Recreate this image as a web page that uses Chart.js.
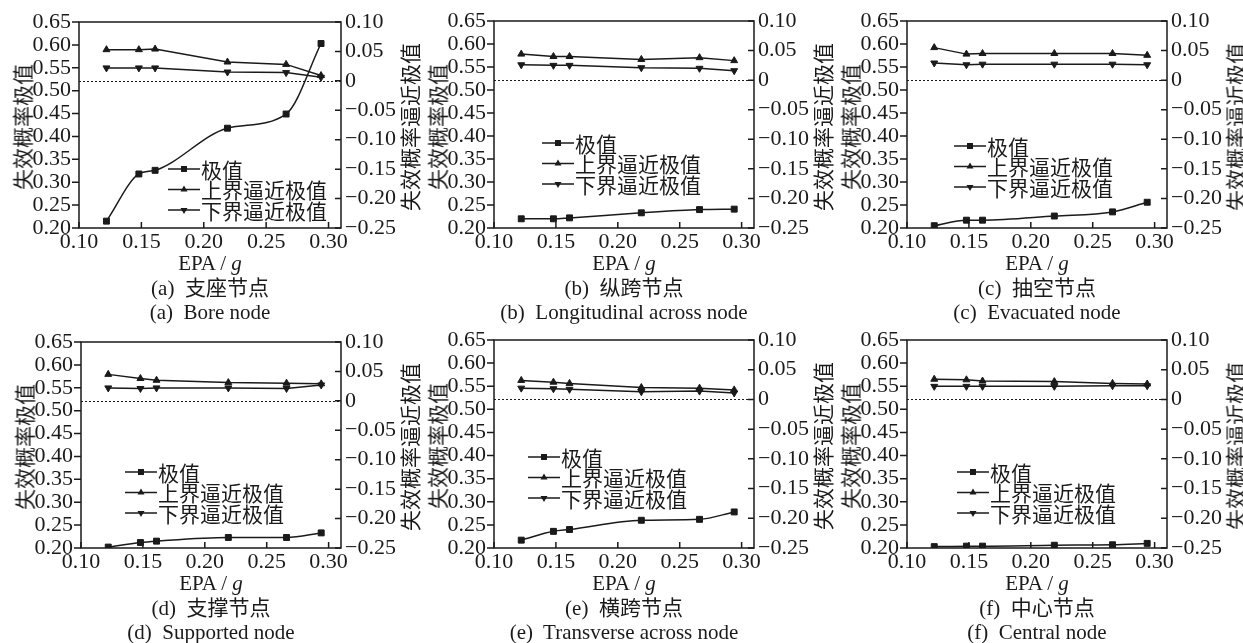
<!DOCTYPE html>
<html><head><meta charset="utf-8">
<script src="https://cdn.jsdelivr.net/npm/chart.js@4.4.0/dist/chart.umd.min.js"></script>
<style>
body{margin:0;background:#fff;width:1243px;height:643px;position:relative;overflow:hidden;font-family:"Liberation Serif","Noto Sans CJK SC",serif;color:#1a1a1a}
canvas{position:absolute}
.t{position:absolute;white-space:pre;transform:translate(-50%,-50%);font-size:21px;line-height:1}
.v{position:absolute;white-space:nowrap;transform:translate(-50%,-50%) rotate(-90deg);font-size:21px;line-height:1;font-family:"Noto Sans CJK SC",sans-serif}
</style></head><body>
<script>
// ---- data ----
const epa = [0.122, 0.148, 0.161, 0.219, 0.266, 0.294];
const xTicks = [0.10, 0.15, 0.20, 0.25, 0.30];
const leftTicks = [0.20, 0.25, 0.30, 0.35, 0.40, 0.45, 0.50, 0.55, 0.60, 0.65];
const rightTicks = [-0.25, -0.20, -0.15, -0.10, -0.05, 0, 0.05, 0.10];
const seriesNames = ['极值', '上界逼近极值', '下界逼近极值'];
const leftTitle = '失效概率极值';
const rightTitle = '失效概率逼近极值';
const xTitle = 'EPA / ';

const extA = [0.215, 0.318, 0.326, 0.418, 0.449, 0.603];
const upA  = [0.053, 0.053, 0.054, 0.032, 0.028, 0.009];
const lowA = [0.022, 0.022, 0.022, 0.015, 0.014, 0.006];

const extB = [0.220, 0.220, 0.222, 0.233, 0.240, 0.241];
const upB  = [0.044, 0.040, 0.040, 0.035, 0.038, 0.033];
const lowB = [0.026, 0.025, 0.025, 0.021, 0.020, 0.016];

const extC = [0.205, 0.217, 0.217, 0.226, 0.235, 0.256];
const upC  = [0.055, 0.044, 0.045, 0.045, 0.045, 0.042];
const lowC = [0.029, 0.026, 0.027, 0.027, 0.027, 0.026];

const extD = [0.202, 0.212, 0.215, 0.223, 0.223, 0.233];
const upD  = [0.045, 0.038, 0.035, 0.031, 0.030, 0.029];
const lowD = [0.022, 0.021, 0.022, 0.022, 0.021, 0.027];

const extE = [0.217, 0.236, 0.240, 0.260, 0.262, 0.278];
const upE  = [0.032, 0.029, 0.027, 0.020, 0.019, 0.016];
const lowE = [0.019, 0.018, 0.017, 0.013, 0.014, 0.011];

const extF = [0.203, 0.204, 0.204, 0.206, 0.207, 0.210];
const upF  = [0.034, 0.033, 0.031, 0.030, 0.027, 0.026];
const lowF = [0.022, 0.022, 0.022, 0.022, 0.023, 0.023];

const captionsZh = ['(a)  支座节点', '(b)  纵跨节点', '(c)  抽空节点', '(d)  支撑节点', '(e)  横跨节点', '(f)  中心节点'];
const captionsEn = ['(a)  Bore node', '(b)  Longitudinal across node', '(c)  Evacuated node', '(d)  Supported node', '(e)  Transverse across node', '(f)  Central node'];
const extSets = [extA, extB, extC, extD, extE, extF];
const upSets = [upA, upB, upC, upD, upE, upF];
const lowSets = [lowA, lowB, lowC, lowD, lowE, lowF];

// ---- layout (pixels) ----
const layout = [
  {l: 79,  r: 341,  t: 22,  b: 228, lx: 89, ly: 147},
  {l: 494, r: 754,  t: 21,  b: 228, lx: 48, ly: 122},
  {l: 907, r: 1167, t: 21,  b: 228, lx: 47, ly: 125},
  {l: 81,  r: 341,  t: 342, b: 548, lx: 44, ly: 130},
  {l: 494, r: 754,  t: 340, b: 548, lx: 34, ly: 117},
  {l: 907, r: 1167, t: 340, b: 548, lx: 50, ly: 132}
];
const INK = '#1a1a1a';
const LAX = 79, RAX = 80, TOP = 22, BOT = 32;

function fmt2(v){ return v.toFixed(2); }
function fmtR(v){ if (Math.abs(v) < 1e-9) return '0'; return (v < 0 ? '\u2212' : '') + Math.abs(v).toFixed(2); }

function marker(ctx, style, x, y){
  ctx.beginPath();
  if (style === 'rect') { ctx.rect(x - 3, y - 3, 6, 6); }
  else if (style === 'up') { ctx.moveTo(x, y - 4); ctx.lineTo(x + 3.5, y + 2); ctx.lineTo(x - 3.5, y + 2); ctx.closePath(); }
  else { ctx.moveTo(x, y + 4); ctx.lineTo(x + 3.5, y - 2); ctx.lineTo(x - 3.5, y - 2); ctx.closePath(); }
  ctx.fill();
}

const decor = {
  id: 'decor',
  beforeDatasetsDraw(chart){
    const {ctx, chartArea: a} = chart;
    const y0 = Math.round(chart.scales.yR.getPixelForValue(0)) + 0.5;
    ctx.save();
    ctx.strokeStyle = INK; ctx.lineWidth = 1; ctx.setLineDash([2, 2]);
    ctx.beginPath(); ctx.moveTo(a.left, y0); ctx.lineTo(a.right, y0); ctx.stroke();
    ctx.restore();
  },
  afterDatasetsDraw(chart){
    const {ctx, chartArea: a} = chart;
    const p = chart.options.plugins.decor;
    ctx.save();
    ctx.strokeStyle = INK; ctx.lineWidth = 1.5; ctx.setLineDash([]);
    ctx.strokeRect(a.left, a.top, a.right - a.left, a.bottom - a.top);
    ctx.beginPath();
    chart.scales.x.ticks.forEach(t => { const x = chart.scales.x.getPixelForValue(t.value); ctx.moveTo(x, a.bottom); ctx.lineTo(x, a.bottom - 6); });
    chart.scales.yL.ticks.forEach(t => { const y = chart.scales.yL.getPixelForValue(t.value); ctx.moveTo(a.left - 7, y); ctx.lineTo(a.left, y); });
    chart.scales.yR.ticks.forEach(t => { const y = chart.scales.yR.getPixelForValue(t.value); ctx.moveTo(a.right - 6, y); ctx.lineTo(a.right, y); });
    ctx.stroke();
    // legend
    const styles = ['rect', 'up', 'down'];
    ctx.fillStyle = INK; ctx.lineWidth = 1.5;
    ctx.font = '21px "Noto Sans CJK SC", sans-serif';
    ctx.textBaseline = 'middle';
    chart.data.datasets.forEach((ds, k) => {
      const x0 = a.left + p.lx, y = a.top + p.ly + k * 20.5;
      ctx.beginPath(); ctx.moveTo(x0, y); ctx.lineTo(x0 + 32, y); ctx.stroke();
      marker(ctx, styles[k], x0 + 16, y);
      ctx.fillText(ds.label, x0 + 33, y + 1);
    });
    ctx.restore();
  }
};

function addText(cls, txt, x, y, html){
  const d = document.createElement('div');
  d.className = cls; d.style.left = x + 'px'; d.style.top = y + 'px';
  if (html) d.innerHTML = html; else d.textContent = txt;
  document.body.appendChild(d);
}

layout.forEach((p, i) => {
  const cv = document.createElement('canvas');
  const W = LAX + (p.r - p.l) + RAX, H = TOP + (p.b - p.t) + BOT;
  cv.width = W; cv.height = H;
  cv.style.left = (p.l - LAX) + 'px'; cv.style.top = (p.t - TOP) + 'px';
  cv.style.width = W + 'px'; cv.style.height = H + 'px';
  document.body.appendChild(cv);
  const font = {family: '"Liberation Serif", serif', size: 22};
  const common = {
    borderColor: INK, backgroundColor: INK, pointBackgroundColor: INK, pointBorderColor: INK,
    borderWidth: 1.5, pointBorderWidth: 1, fill: false
  };
  new Chart(cv, {
    type: 'line',
    data: {datasets: [
      Object.assign({label: seriesNames[0], yAxisID: 'yL', data: epa.map((x, k) => ({x, y: extSets[i][k]})),
        pointStyle: 'rect', pointRadius: 4.2, cubicInterpolationMode: 'monotone'}, common),
      Object.assign({label: seriesNames[1], yAxisID: 'yR', data: epa.map((x, k) => ({x, y: upSets[i][k]})),
        pointStyle: 'triangle', pointRadius: 4, tension: 0}, common),
      Object.assign({label: seriesNames[2], yAxisID: 'yR', data: epa.map((x, k) => ({x, y: lowSets[i][k]})),
        pointStyle: 'triangle', pointRotation: 180, pointRadius: 4, tension: 0}, common)
    ]},
    options: {
      responsive: false, animation: false, devicePixelRatio: 1,
      layout: {padding: {top: TOP, left: 0, right: 0, bottom: 0}},
      plugins: {legend: {display: false}, tooltip: {enabled: false}, decor: {lx: p.lx, ly: p.ly}},
      scales: {
        x: {type: 'linear', min: 0.10, max: 0.31,
          afterBuildTicks: s => { s.ticks = xTicks.map(v => ({value: v})); },
          afterFit: s => { s.height = BOT; },
          grid: {display: false, drawTicks: false}, border: {display: false},
          ticks: {padding: 1, font, color: INK, callback: v => fmt2(v), autoSkip: false, maxRotation: 0}},
        yL: {type: 'linear', position: 'left', min: 0.20, max: 0.65,
          afterBuildTicks: s => { s.ticks = leftTicks.map(v => ({value: v})); },
          afterFit: s => { s.width = LAX; },
          grid: {display: false, drawTicks: false}, border: {display: false},
          ticks: {padding: 8, font, color: INK, callback: v => fmt2(v), autoSkip: false}},
        yR: {type: 'linear', position: 'right', min: -0.25, max: 0.10,
          afterBuildTicks: s => { s.ticks = rightTicks.map(v => ({value: v})); },
          afterFit: s => { s.width = RAX; },
          grid: {display: false, drawTicks: false}, border: {display: false},
          ticks: {padding: 4, font, color: INK, callback: v => fmtR(v), autoSkip: false}}
      }
    },
    plugins: [decor]
  });
  const cx = (p.l + p.r) / 2, cy = (p.t + p.b) / 2 + 2;
  addText('v', leftTitle, p.l - 57, cy);
  addText('v', rightTitle, p.r + 68, cy);
  addText('t', '', cx, p.b + 35, xTitle + '<i>g</i>');
  addText('t', captionsZh[i], cx, p.b + 60);
  addText('t', captionsEn[i], cx, p.b + 84);
});
</script>
</body></html>
